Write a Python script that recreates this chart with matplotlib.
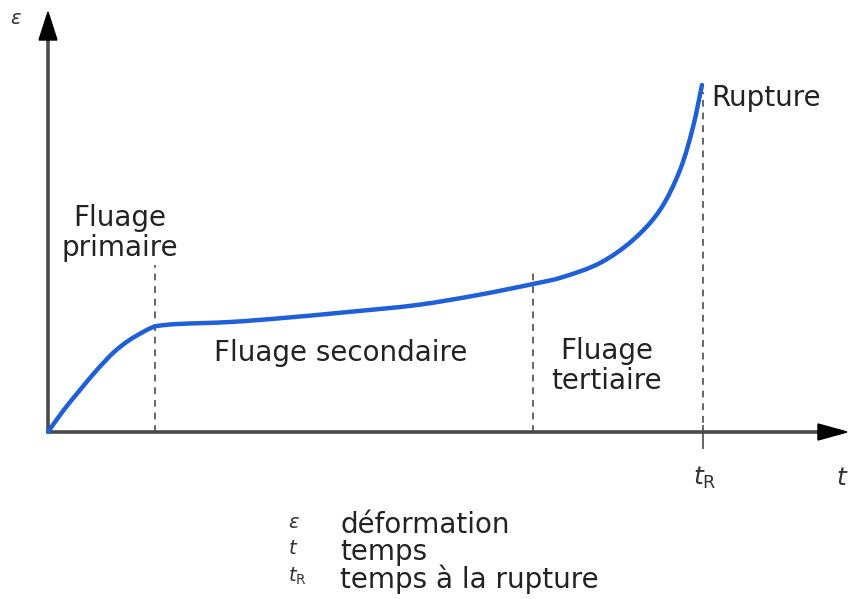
import matplotlib
matplotlib.use("Agg")
import matplotlib.pyplot as plt
from matplotlib.patches import FancyArrow, PathPatch
from matplotlib.path import Path
import numpy as np

plt.rcParams['font.family'] = ['DejaVu Sans']

# Creep curve: time (t) vs strain (eps), arbitrary units
t = [0, 15, 32, 48, 65, 80, 95, 103, 109, 130, 182, 235, 300, 369, 430, 485,
     515, 552, 585, 612, 632, 645, 654]
eps = [0, 21, 42, 61, 79, 91, 100, 104, 106, 108, 110, 114, 120, 127, 137, 148,
       155, 169, 192, 222, 262, 305, 347]

t_primary = 107     # end of primary creep
t_tertiary = 485    # start of tertiary creep
t_rupture = 655     # rupture time


def smooth_path(xs, ys, tension=0.5):
    """Catmull-Rom curve through the points, as cubic Bezier segments."""
    p = np.column_stack([xs, ys]).astype(float)
    p_ext = np.vstack([p[0], p, p[-1]])
    verts = [p[0]]
    codes = [Path.MOVETO]
    for i in range(1, len(p_ext) - 2):
        p0, p1, p2, p3 = p_ext[i - 1], p_ext[i], p_ext[i + 1], p_ext[i + 2]
        c1 = p1 + (p2 - p0) * tension / 3
        c2 = p2 - (p3 - p1) * tension / 3
        verts += [c1, c2, p2]
        codes += [Path.CURVE4] * 3
    return Path(verts, codes)


fig = plt.figure(figsize=(8.48, 5.99), dpi=100)
ax = fig.add_axes([0, 0, 1, 1])
ax.set_xlim(-48, 800)
ax.set_ylim(-167, 432)
ax.axis('off')

axis_col = '#4a4a4a'
dash_col = '#666666'

# axes with arrow heads
ax.plot([0, 780], [0, 0], color=axis_col, lw=2.6, solid_capstyle='butt', zorder=2)
ax.plot([0, 0], [0, 400], color=axis_col, lw=2.6, solid_capstyle='butt', zorder=2)
ax.add_patch(FancyArrow(770, 0, 29, 0, width=0.1, head_width=16, head_length=29,
                        length_includes_head=True, color='black', zorder=3))
ax.add_patch(FancyArrow(0, 392, 0, 28, width=0.1, head_width=18, head_length=28,
                        length_includes_head=True, color='black', zorder=3))

# phase boundaries
dash = (0, (3.5, 3))
ax.plot([t_primary, t_primary], [0, 167], ls=dash, color=dash_col, lw=1.4, zorder=1)
ax.plot([t_tertiary, t_tertiary], [0, 164], ls=dash, color=dash_col, lw=1.4, zorder=1)
ax.plot([t_rupture, t_rupture], [-16, 340], ls=dash, color=dash_col, lw=1.4, zorder=1)
ax.plot([t_rupture, t_rupture], [-16, 6], color=dash_col, lw=1.4, zorder=1)

# creep curve
ax.add_patch(PathPatch(smooth_path(t, eps), facecolor='none', edgecolor='#1f5fd8',
                       lw=3.2, capstyle='round', joinstyle='round', zorder=4))

txt = dict(color='#222222', fontsize=20)
ax.text(72, 199, 'Fluage\nprimaire', ha='center', va='center', linespacing=1.1, **txt)
ax.text(293, 79, 'Fluage secondaire', ha='center', va='center', **txt)
ax.text(559, 66, 'Fluage\ntertiaire', ha='center', va='center', linespacing=1.1, **txt)
ax.text(663, 334, 'Rupture', ha='left', va='center', **txt)

# axis labels
ax.text(-32, 414, r'$\varepsilon$', ha='center', va='center', fontsize=14, color='#333333')
ax.text(794, -46, r'$t$', ha='center', va='center', fontsize=18, color='#333333')
ax.text(657, -46, r'$t_{\mathrm{R}}$', ha='center', va='center', fontsize=18, color='#333333')

# legend of symbols
leg_sym = [r'$\varepsilon$', r'$t$', r'$t_{\mathrm{R}}$']
leg_txt = ['déformation', 'temps', 'temps à la rupture']
for i, (s, d) in enumerate(zip(leg_sym, leg_txt)):
    y = -93 - 27 * i
    ax.text(240, y + 3, s, ha='left', va='center', fontsize=14, color='#333333')
    ax.text(292, y, d, ha='left', va='center', **txt)

fig.savefig('out.png', dpi=100, facecolor='white')
